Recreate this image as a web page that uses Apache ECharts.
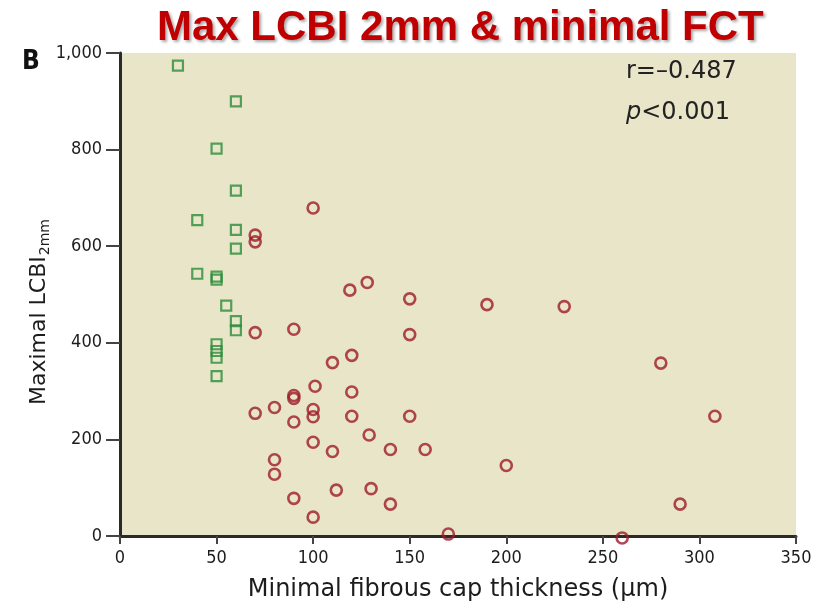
<!DOCTYPE html>
<html>
<head>
<meta charset="utf-8" />
<title>Max LCBI 2mm & minimal FCT</title>
<script src="https://cdn.jsdelivr.net/npm/echarts@6/dist/echarts.min.js"></script>
<style>
  html, body { margin: 0; padding: 0; background: #fff; }
  #chart { width: 820px; height: 607px; }
</style>
</head>
<body>
<div id="chart"></div>
<script>
const palette = {
  title: "#c00000",
  red: "#9e1b2a",
  green: "#2a8c3b",
  plot: "#e9e5c9",
  axis: "#2a2a2a",
  ink: "#1c1c1c",
};

// squares: lesions with high LCBI (green)
const greenX = [30, 60, 50, 60, 40, 60, 60, 40, 50, 50, 55, 60, 60, 50, 50, 50, 50];
const greenY = [974, 900, 802, 715, 654, 634, 595, 543, 537, 531, 477, 445, 426, 397, 383, 369, 331];

// circles (red)
const redX = [100, 70, 70, 119, 128, 150, 90, 70, 150, 120, 110, 101, 120, 90, 90, 80, 70, 100, 100, 120, 150,
  90, 129, 100, 110, 140, 158, 80, 80, 112, 130, 90, 140, 100, 170, 190, 230, 280, 308, 200, 290, 260];
const redY = [679, 623, 609, 509, 525, 491, 428, 421, 417, 374, 359, 310, 298, 291, 285, 266, 254, 262, 247, 248, 248,
  236, 209, 194, 175, 179, 179, 158, 128, 95, 98, 78, 66, 39, 4, 479, 475, 358, 248, 146, 66, -4];

const xTicks = { min: 0, max: 350, interval: 50 };
const yTicks = { min: 0, max: 1000, interval: 200 };

const pairs = (xs, ys) => xs.map((x, i) => [x, ys[i]]);

const tickFont = "'Liberation Sans Narrow', 'DejaVu Sans Condensed', sans-serif";
const labelFont = "'DejaVu Sans', sans-serif";

const chart = echarts.init(document.getElementById("chart"), null, { renderer: "canvas" });

chart.setOption({
  animation: false,
  title: {
    text: "Max LCBI 2mm & minimal FCT",
    left: 152,
    top: 2,
    textStyle: {
      color: palette.title,
      fontSize: 42,
      fontWeight: "bold",
      fontFamily: "'Liberation Sans', Arial, sans-serif",
      textShadowColor: "rgba(0,0,0,0.35)",
      textShadowBlur: 3,
      textShadowOffsetX: 2,
      textShadowOffsetY: 2,
    },
  },
  grid: {
    left: 120,
    right: 24,
    top: 53,
    bottom: 67,
    show: true,
    backgroundColor: palette.plot,
    borderWidth: 0,
  },
  xAxis: {
    type: "value",
    ...xTicks,
    name: "Minimal fibrous cap thickness (µm)",
    nameLocation: "middle",
    nameGap: 42,
    nameTextStyle: { color: palette.ink, fontSize: 24, fontFamily: labelFont },
    axisLine: { onZero: false, lineStyle: { color: palette.axis, width: 3 } },
    axisTick: { length: 8, lineStyle: { color: "#444", width: 2 } },
    axisLabel: { color: palette.ink, fontSize: 18, fontFamily: tickFont, margin: 13 },
    splitLine: { show: false },
  },
  yAxis: {
    type: "value",
    ...yTicks,
    axisLine: { show: true, onZero: false, lineStyle: { color: palette.axis, width: 3 } },
    axisTick: { show: true, length: 14, lineStyle: { color: "#444", width: 2 } },
    axisLabel: {
      color: palette.ink,
      fontSize: 18,
      fontFamily: tickFont,
      margin: 18,
      formatter: (v) => v.toLocaleString("en-US"),
    },
    splitLine: { show: false },
  },
  series: [
    {
      type: "scatter",
      symbol: "rect",
      symbolSize: 10,
      itemStyle: { color: "transparent", borderColor: palette.green, borderWidth: 2.2 },
      data: pairs(greenX, greenY),
    },
    {
      type: "scatter",
      symbol: "circle",
      symbolSize: 11,
      clip: false,
      itemStyle: { color: "transparent", borderColor: palette.red, borderWidth: 2.6 },
      data: pairs(redX, redY),
    },
  ],
  graphic: [
    {
      type: "text",
      left: 22,
      top: 49,
      style: { text: "B", fontSize: 26, fontWeight: "bold", fontFamily: tickFont, fill: "#111" },
    },
    {
      type: "text",
      x: 39,
      y: 312,
      rotation: Math.PI / 2,
      style: {
        text: "{a|Maximal LCBI}{b|2mm}",
        align: "center",
        verticalAlign: "middle",
        rich: {
          a: { fontSize: 22, fontFamily: labelFont, fill: palette.ink, lineHeight: 28 },
          b: { fontSize: 14, fontFamily: labelFont, fill: palette.ink, padding: [12, 0, 0, 1] },
        },
      },
    },
    {
      type: "text",
      left: 626,
      top: 60,
      style: { text: "r=–0.487", fontSize: 24, fontFamily: labelFont, fill: "#222" },
    },
    {
      type: "text",
      left: 626,
      top: 101,
      style: {
        text: "{i|p}{n|<0.001}",
        rich: {
          i: { fontSize: 24, fontStyle: "italic", fontFamily: labelFont, fill: "#222" },
          n: { fontSize: 24, fontFamily: labelFont, fill: "#222" },
        },
      },
    },
  ],
});
</script>
</body>
</html>
